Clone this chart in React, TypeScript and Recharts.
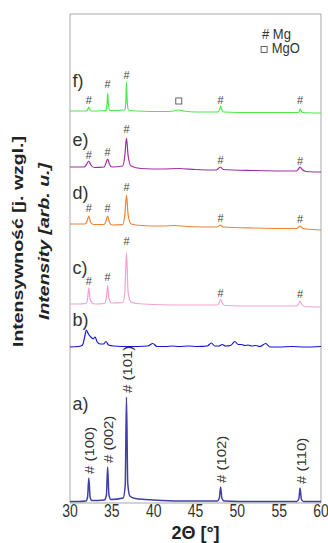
import React from 'react';
import { LineChart, Line, XAxis, YAxis, ReferenceDot, ReferenceArea, Label } from 'recharts';

const FONT = '"Liberation Sans", Arial, sans-serif';

// 2θ axis ticks
const twoThetaTicks = [30, 35, 40, 45, 50, 55, 60];

// Sample patterns: [2θ, relative intensity]
const patternA: [number, number][] = [
  [30, 1.5], [31, 1.5], [31.9, 2], [32.1, 6], [32.25, 25], [32.4, 6], [32.6, 2.5],
  [34.1, 3], [34.35, 8], [34.5, 36], [34.65, 8], [34.9, 3.5],
  [36.35, 5], [36.6, 18], [36.75, 106], [36.9, 20], [37.15, 7], [37.8, 4.5], [39, 3.5], [41, 2.5], [44, 2],
  [47.6, 2], [47.85, 5], [48, 16], [48.15, 5], [48.4, 2], [52, 1.5],
  [57.1, 1.5], [57.35, 4], [57.5, 15], [57.65, 4], [57.9, 1.5], [60, 1.5],
];
const patternB: [number, number][] = [
  [30, 0], [31, 0.5], [31.5, 2], [31.75, 10], [31.95, 17], [32.2, 13], [32.5, 10], [32.75, 8], [33.0, 10],
  [33.25, 5], [33.6, 3], [34.0, 3], [34.3, 5.5], [34.6, 2], [35.2, 1], [37, 0.5], [39.3, 1], [39.9, 3.5],
  [40.4, 0.5], [41.5, 0.5], [42.2, 1], [43, 0.5], [44.2, 1], [45.2, 0.5], [46.4, 1], [46.9, 4], [47.3, 1],
  [47.8, 1], [48.2, 2.5], [48.6, 1], [49.2, 1.5], [49.7, 5.5], [50.1, 2.5], [50.5, 2.5], [50.9, 1.5],
  [51.3, 2], [51.7, 1], [52.2, 1.5], [52.7, 0.5], [53.4, 3.5], [53.9, 0], [55, 0], [56.5, 0.5], [58, 0], [60, 0.5],
];
const patternC: [number, number][] = [
  [30, 3], [31, 3], [31.9, 3.5], [32.1, 8], [32.25, 19.5], [32.4, 8], [32.65, 4], [33, 3],
  [34.1, 3.5], [34.35, 9], [34.5, 21.5], [34.65, 9], [34.95, 4],
  [36.3, 4.5], [36.55, 14], [36.75, 54.5], [36.95, 14], [37.3, 5], [38, 3.5], [40, 2.5], [44, 2],
  [47.6, 2], [47.85, 4.5], [48, 7.5], [48.2, 4], [48.5, 1.5], [52, 1],
  [57.1, 1], [57.35, 3.5], [57.5, 6], [57.7, 3], [58, 0.5], [60, 0],
];
const patternD: [number, number][] = [
  [30, 6], [31.8, 6], [32.05, 9], [32.25, 14], [32.45, 8], [32.8, 5.5],
  [34.1, 5.5], [34.3, 9], [34.5, 14], [34.7, 8], [35, 5],
  [36.3, 5.5], [36.55, 15], [36.75, 35], [36.95, 15], [37.3, 6], [38.5, 4.5], [41, 4], [42.5, 4.5], [44, 3.5],
  [47.5, 3], [47.8, 4], [48, 5], [48.3, 3], [52, 2],
  [57.1, 1.5], [57.35, 3], [57.5, 4], [57.75, 2], [58.2, 1], [60, 0],
];
const patternE: [number, number][] = [
  [30, 5], [31.7, 5], [32, 8], [32.25, 11], [32.5, 7], [32.9, 4.5],
  [34.1, 5], [34.3, 9], [34.5, 13], [34.7, 8], [35, 5],
  [36.3, 6], [36.55, 16], [36.75, 34], [36.95, 16], [37.3, 6], [38.5, 3.5], [41, 3], [43, 3.5], [45, 2.5],
  [47.5, 2], [47.8, 4], [48, 5], [48.3, 2.5], [52, 1.5],
  [57.1, 1], [57.35, 3.5], [57.5, 5], [57.75, 2.5], [58.2, 0.5], [60, 0],
];
const patternF: [number, number][] = [
  [30, 2], [32, 2], [32.15, 4], [32.25, 6], [32.35, 4], [32.55, 2],
  [34.3, 2.5], [34.42, 8], [34.5, 20], [34.6, 8], [34.75, 2.5],
  [36.55, 3], [36.67, 10], [36.75, 31], [36.85, 10], [37, 3], [38, 2], [41, 1.5],
  [42.4, 2], [43, 3], [43.6, 2], [45, 1],
  [47.7, 1], [47.9, 4], [48, 7], [48.12, 4], [48.35, 1], [52, 0.5],
  [57.3, 0.5], [57.45, 2.5], [57.5, 4], [57.6, 2.5], [57.8, 0.5], [60, 0],
];

// vertical offsets of the stacked patterns
const sampleNames = ['a)', 'b)', 'c)', 'd)', 'e)', 'f)'];
const sampleOffsets = [0, 156, 196, 273, 331, 390];
const sampleColors = ['#4040a8', '#1414dc', '#f2a2d2', '#f28232', '#a02ea0', '#4ee84e'];
const sampleLabelY = [100, 184, 236, 311, 364, 423];

// Mg reflections
const mgPeaks = [32.25, 34.5, 36.75, 48, 57.5];
const millerIndices = ['(100)', '(002)', '(101)', '(102)', '(110)'];
const millerLabelY = [29, 40, 110, 20, 19];
const hashY_c = [222, 226, 262, 210, 209];
const hashY_d = [295, 295, 316, 285, 284];
const hashY_e = [348, 351, 374, 343, 342];
const hashY_f = [403, 419, 428, 403, 403];
const mgoPeakF = { t: 43, y: 402 };

const patterns = [patternA, patternB, patternC, patternD, patternE, patternF];
const seriesData = patterns.map((p, i) => p.map(([t, v]) => ({ t, y: v + sampleOffsets[i] })));

const STextShape = (opts: { text: string; size: number; sy?: number; rot?: boolean; anchor?: string; weight?: any; italic?: boolean; fill?: string; dx?: number; dy?: number }) =>
  (p: any) => {
    const { text, size, sy = 1, rot = false, anchor = 'middle', weight = 'normal', italic = false, fill = '#333', dx = 0, dy = 0 } = opts;
    const tr = `translate(${p.cx + dx},${p.cy + dy}) scale(1,${sy})${rot ? ' rotate(-90)' : ''}`;
    return (
      <text transform={tr} x={0} y={0} textAnchor={anchor as any} dominantBaseline="central"
        fontFamily={FONT} fontSize={size} fontWeight={weight} fontStyle={italic ? 'italic' : 'normal'} fill={fill}>
        {text}
      </text>
    );
  };

const SquareShape = (size: number) => (p: any) => (
  <rect x={p.cx - size / 2} y={p.cy - size / 2} width={size} height={size} fill="none" stroke="#555" strokeWidth={0.9} />
);

const XTick = (props: any) => {
  const { x, y, payload } = props;
  return (
    <text transform={`translate(${x},${y + 4}) scale(1,1.25)`} x={0} y={0} textAnchor="middle" dominantBaseline="central"
      fontFamily={FONT} fontSize={14} fill="#333">
      {payload.value}
    </text>
  );
};

const XTitle = (props: any) => {
  const vb = props.viewBox;
  return (
    <text x={vb.x + vb.width / 2} y={533} textAnchor="middle" dominantBaseline="central"
      fontFamily={FONT} fontSize={18} fontWeight="bold" fill="#222">
      2Θ [°]
    </text>
  );
};

const YTitle = (props: any) => {
  const vb = props.viewBox;
  const cy = vb.y + vb.height / 2 - 17;
  return (
    <g>
      <text transform={`translate(${vb.x + 18},${cy}) scale(1,1.3) rotate(-90)`} textAnchor="middle" dominantBaseline="central"
        fontFamily={FONT} fontSize={15} fontWeight="bold" fill="#222">
        Intensywność [j. wzgl.]
      </text>
      <text transform={`translate(${vb.x + 44},${cy}) scale(1,1.3) rotate(-90)`} textAnchor="middle" dominantBaseline="central"
        fontFamily={FONT} fontSize={15} fontWeight="bold" fontStyle="italic" fill="#222">
        Intensity [arb. u.]
      </text>
    </g>
  );
};

export default function App() {
  const hashSets = [hashY_c, hashY_d, hashY_e, hashY_f];
  return (
    <div style={{ position: 'absolute', left: 0, top: 0, width: 328, height: 543, background: '#fff' }}>
      <LineChart width={328} height={543} margin={{ top: 14, right: 7, bottom: 0, left: 0 }}>
        <XAxis dataKey="t" type="number" domain={[30, 60]} ticks={twoThetaTicks} allowDataOverflow
          axisLine={false} tickLine={false} tickSize={2} tickMargin={2} height={40} tick={<XTick />} interval={0}>
          <Label content={<XTitle />} />
        </XAxis>
        <YAxis type="number" domain={[0, 489]} allowDataOverflow width={70} tick={false} axisLine={false} tickLine={false}>
          <Label content={<YTitle />} />
        </YAxis>
        <ReferenceArea x1={30} x2={60} y1={0} y2={489} fill="none" fillOpacity={0} stroke="#a8a8a8" strokeWidth={1} />
        {seriesData.map((d, i) => (
          <Line key={i} data={d} dataKey="y" type="monotone" stroke={sampleColors[i]} strokeWidth={i === 0 ? 1.5 : 1.2}
            dot={false} activeDot={false} isAnimationActive={false} />
        ))}
        {sampleNames.map((n, i) => (
          <ReferenceDot key={'sn' + i} x={30.3} y={sampleLabelY[i]} r={0}
            shape={STextShape({ text: n, size: 18, sy: 1.05, anchor: 'start', fill: '#333' })} />
        ))}
        {mgPeaks.map((t, i) => (
          <ReferenceDot key={'mi' + i} x={t} y={millerLabelY[i]} r={0}
            shape={STextShape({ text: '# ' + millerIndices[i], size: 13, sy: 1.15, rot: true, anchor: 'start', fill: '#333', dx: 1 })} />
        ))}
        {hashSets.map((set, si) =>
          mgPeaks.map((t, i) => (
            <ReferenceDot key={'h' + si + '-' + i} x={t} y={set[i]} r={0}
              shape={STextShape({ text: '#', size: 11, fill: '#444' })} />
          ))
        )}
        <ReferenceDot x={mgoPeakF.t} y={mgoPeakF.y} r={0} shape={SquareShape(6)} />
        <ReferenceDot x={52.95} y={469} r={0} shape={STextShape({ text: '# Mg', size: 13, sy: 1.1, anchor: 'start', fill: '#333' })} />
        <ReferenceDot x={53.2} y={453.5} r={0} shape={SquareShape(6)} />
        <ReferenceDot x={54.1} y={455} r={0} shape={STextShape({ text: 'MgO', size: 13, sy: 1.1, anchor: 'start', fill: '#333' })} />
      </LineChart>
    </div>
  );
}
